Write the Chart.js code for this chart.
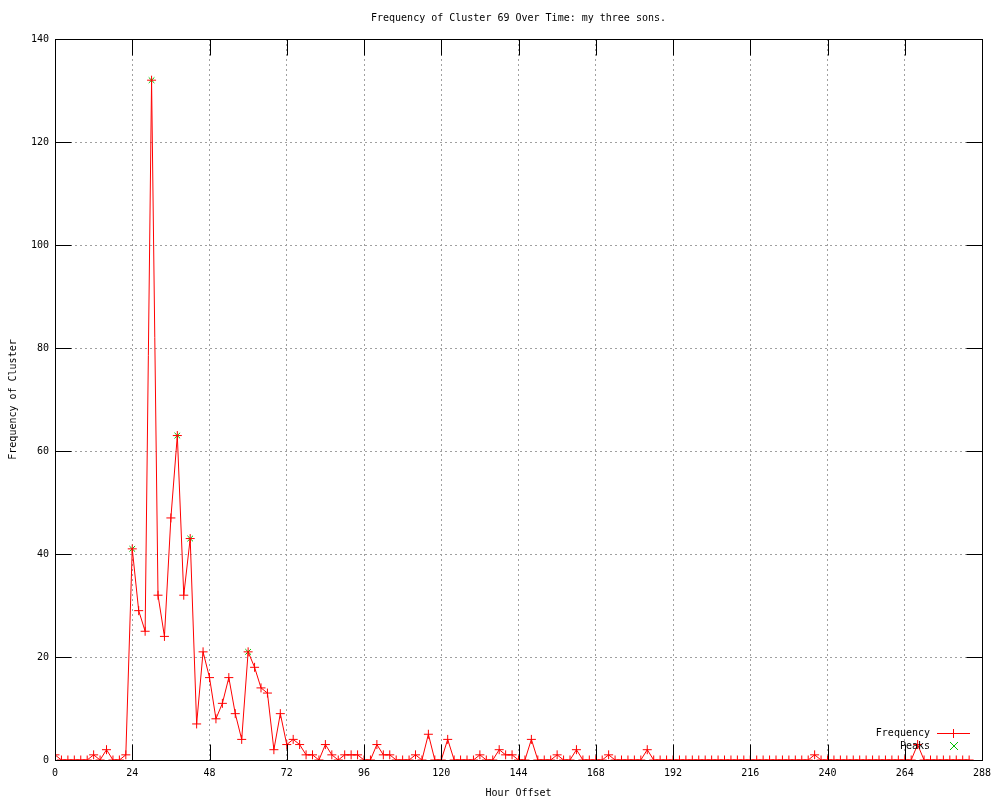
<!DOCTYPE html>
<html lang="en">
<head>
<meta charset="UTF-8">
<title>Frequency of Cluster 69</title>
<script src="https://cdn.jsdelivr.net/npm/chart.js"></script>
<style>
    body { margin: 0; background: #ffffff; }
    #wrap { width: 1000px; height: 800px; }
</style>
</head>
<body>
<div id="wrap"><canvas id="chart" width="1000" height="800"></canvas></div>
<script>
    const titleText = "Frequency of Cluster 69 Over Time: my three sons.";

    const hours = [
        0, 2, 4, 6, 8, 10, 12, 14, 16, 18, 20, 22,
        24, 26, 28, 30, 32, 34, 36, 38, 40, 42, 44, 46,
        48, 50, 52, 54, 56, 58, 60, 62, 64, 66, 68, 70,
        72, 74, 76, 78, 80, 82, 84, 86, 88, 90, 92, 94,
        96, 98, 100, 102, 104, 106, 108, 110, 112, 114, 116, 118,
        120, 122, 124, 126, 128, 130, 132, 134, 136, 138, 140, 142,
        144, 146, 148, 150, 152, 154, 156, 158, 160, 162, 164, 166,
        168, 170, 172, 174, 176, 178, 180, 182, 184, 186, 188, 190,
        192, 194, 196, 198, 200, 202, 204, 206, 208, 210, 212, 214,
        216, 218, 220, 222, 224, 226, 228, 230, 232, 234, 236, 238,
        240, 242, 244, 246, 248, 250, 252, 254, 256, 258, 260, 262,
        264, 266, 268, 270, 272, 274, 276, 278, 280, 282, 284
    ];
    const frequency = [
        1, 0, 0, 0, 0, 0, 1, 0, 2, 0, 0, 1,
        41, 29, 25, 132, 32, 24, 47, 63, 32, 43, 7, 21,
        16, 8, 11, 16, 9, 4, 21, 18, 14, 13, 2, 9,
        3, 4, 3, 1, 1, 0, 3, 1, 0, 1, 1, 1,
        0, 0, 3, 1, 1, 0, 0, 0, 1, 0, 5, 0,
        0, 4, 0, 0, 0, 0, 1, 0, 0, 2, 1, 1,
        0, 0, 4, 0, 0, 0, 1, 0, 0, 2, 0, 0,
        0, 0, 1, 0, 0, 0, 0, 0, 2, 0, 0, 0,
        0, 0, 0, 0, 0, 0, 0, 0, 0, 0, 0, 0,
        0, 0, 0, 0, 0, 0, 0, 0, 0, 0, 1, 0,
        0, 0, 0, 0, 0, 0, 0, 0, 0, 0, 0, 0,
        0, 0, 3, 0, 0, 0, 0, 0, 0, 0, 0
    ];
    const peakHours = [24, 30, 38, 42, 60];
    const peakValues = [41, 132, 63, 43, 21];

    const xTicks = [0, 24, 48, 72, 96, 120, 144, 168, 192, 216, 240, 264, 288];
    const yTicks = [0, 20, 40, 60, 80, 100, 120, 140];

    const FONT = "'DejaVu Sans Mono', 'Liberation Mono', monospace";
    const RED = "#ff0000";
    const GREEN = "#00c000";

    // gnuplot look: full border box, inward ticks on all sides, title, legend in corner
    const gnuplotDecor = {
        id: "gnuplotDecor",
        afterDraw(chart) {
            const ctx = chart.ctx;
            const a = chart.chartArea;
            const xs = chart.scales.x;
            const ys = chart.scales.y;
            const L = Math.round(a.left) + 0.5, R = Math.round(a.right) + 0.5;
            const T = Math.round(a.top) + 0.5, B = Math.round(a.bottom) + 0.5;
            const tl = 16;

            ctx.save();
            ctx.setLineDash([]);
            ctx.strokeStyle = "#000";
            ctx.lineWidth = 1;
            ctx.beginPath();
            xTicks.forEach(v => {
                const px = Math.round(xs.getPixelForValue(v)) + 0.5;
                ctx.moveTo(px, B); ctx.lineTo(px, B - tl);
                ctx.moveTo(px, T); ctx.lineTo(px, T + tl);
            });
            yTicks.forEach(v => {
                const py = Math.round(ys.getPixelForValue(v)) + 0.5;
                ctx.moveTo(L, py); ctx.lineTo(L + tl, py);
                ctx.moveTo(R, py); ctx.lineTo(R - tl, py);
            });
            ctx.stroke();
            ctx.strokeRect(L, T, R - L, B - T);

            // title
            ctx.fillStyle = "#000";
            ctx.font = "10px " + FONT;
            ctx.textAlign = "center";
            ctx.textBaseline = "middle";
            ctx.fillText(titleText, (a.left + a.right) / 2, 18);

            // legend
            ctx.textAlign = "right";
            ctx.fillText("Frequency", 930, 733);
            ctx.fillText("Peaks", 930, 746);
            ctx.fillStyle = RED;
            ctx.fillRect(937, 733, 33, 1);
            ctx.fillRect(953, 729, 1, 9);
            ctx.fillStyle = GREEN;
            for (let i = 0; i < 8; i++) {
                ctx.fillRect(950 + i, 742 + i, 1, 1);
                ctx.fillRect(957 - i, 742 + i, 1, 1);
            }
            ctx.restore();
        }
    };

    const freqPoints = hours.map((h, i) => ({ x: h, y: frequency[i] }));
    const peakPoints = peakHours.map((h, i) => ({ x: h, y: peakValues[i] }));

    new Chart(document.getElementById("chart"), {
        type: "line",
        data: {
            datasets: [{
                label: "Frequency",
                data: freqPoints,
                borderColor: RED,
                backgroundColor: RED,
                borderWidth: 1,
                tension: 0,
                pointStyle: "cross",
                pointRadius: 4.5,
                pointBorderWidth: 1,
                pointBorderColor: RED,
                fill: false
            }, {
                label: "Peaks",
                data: peakPoints,
                showLine: false,
                borderColor: GREEN,
                backgroundColor: GREEN,
                pointStyle: "crossRot",
                pointRadius: 4,
                pointBorderWidth: 1,
                pointBorderColor: GREEN
            }]
        },
        options: {
            responsive: false,
            animation: false,
            events: [],
            layout: { padding: { top: 39, right: 18, left: 0, bottom: 0 } },
            plugins: {
                legend: { display: false },
                title: { display: false },
                tooltip: { enabled: false }
            },
            scales: {
                x: {
                    type: "linear",
                    min: 0,
                    max: 288,
                    afterBuildTicks: s => { s.ticks = xTicks.map(v => ({ value: v })); },
                    afterFit: s => { s.height = 40; },
                    ticks: { color: "#000", font: { family: FONT, size: 10 }, padding: 7, maxRotation: 0 },
                    grid: { color: "#a0a0a0", drawTicks: false, lineWidth: 1 },
                    border: { display: false, dash: [2, 3] },
                    title: { display: true, text: "Hour Offset", color: "#000", font: { family: FONT, size: 10 }, padding: { top: 0, bottom: 1 } }
                },
                y: {
                    min: 0,
                    max: 140,
                    afterBuildTicks: s => { s.ticks = yTicks.map(v => ({ value: v })); },
                    afterFit: s => { s.width = 55; },
                    ticks: { color: "#000", font: { family: FONT, size: 10 }, padding: 6 },
                    grid: { color: "#a0a0a0", drawTicks: false, lineWidth: 1 },
                    border: { display: false, dash: [2, 3] },
                    title: { display: true, text: "Frequency of Cluster", color: "#000", font: { family: FONT, size: 10 }, padding: { top: 7, bottom: 0 } }
                }
            }
        },
        plugins: [gnuplotDecor]
    });
</script>
</body>
</html>
